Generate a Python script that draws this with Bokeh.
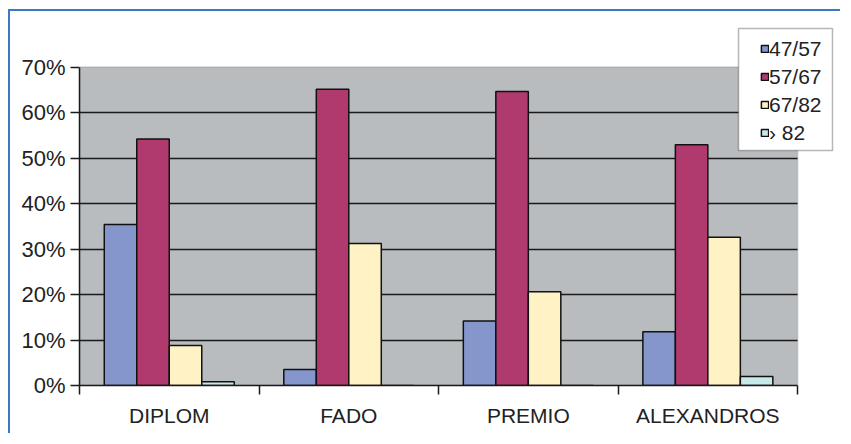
from bokeh.plotting import figure
from bokeh.models import (ColumnDataSource, Range1d, FixedTicker, PrintfTickFormatter,
                          Legend, LegendItem, BoxAnnotation)
from bokeh.embed import file_html
from bokeh.resources import INLINE

categories = ["DIPLOM", "FADO", "PREMIO", "ALEXANDROS"]
series_names = ["47/57", "57/67", "67/82", "› 82"]
s_47_57 = [35.4, 3.5, 14.2, 11.8]
s_57_67 = [54.2, 65.1, 64.6, 52.9]
s_67_82 = [8.8, 31.2, 20.6, 32.6]
s_gt_82 = [0.8, 0.0, 0.0, 2.0]
y_ticks = [0, 10, 20, 30, 40, 50, 60, 70]
y_max = 70

colors = ["#8496cb", "#b03a6e", "#fff3c6", "#c8e9ea"]
series = [s_47_57, s_57_67, s_67_82, s_gt_82]

FONT = "Liberation Sans"
TXT = "#222222"
n = len(categories)

# layout (pixels)
BL, BT, BB = 69, 10, 50
W, H = 832, 424
X0, X1 = -0.5, n - 0.25
Y0, Y1 = 0, 80
px_x = (W - BL) / (X1 - X0)
px_y = (H - BT - BB) / (Y1 - Y0)

p = figure(width=W, height=H, output_backend="svg", toolbar_location=None,
           x_range=Range1d(X0, X1), y_range=Range1d(Y0, Y1),
           min_border_left=BL, min_border_right=0, min_border_top=BT, min_border_bottom=BB)
p.styles = {"margin-left": "8px", "margin-top": "9px",
            "border-top": "2px solid #3b78c6", "border-left": "2px solid #3b78c6"}

p.background_fill_color = "white"
p.border_fill_color = "white"
p.outline_line_color = None

# plot-area background (grey panel)
panel = BoxAnnotation(left=-0.5, right=n - 0.5, bottom=0, top=y_max,
                      fill_color="#b8bcbf", fill_alpha=1,
                      line_color="#8f9294", line_width=2, level="image")
p.add_layout(panel)

p.xgrid.grid_line_color = None
p.ygrid.ticker = FixedTicker(ticks=[t for t in y_ticks if 0 < t < y_max])
p.ygrid.grid_line_color = "#1a1a1a"
p.ygrid.grid_line_width = 1.5
if hasattr(p.ygrid, "cross_bounds"):
    p.ygrid.cross_bounds = (-0.5, n - 0.5)

# y axis
ya = p.yaxis[0]
ya.ticker = FixedTicker(ticks=y_ticks)
ya.bounds = (0, y_max)
ya.formatter = PrintfTickFormatter(format="%d%%")
ya.axis_line_color = "#1a1a1a"
ya.axis_line_width = 1.5
ya.major_tick_line_color = "#1a1a1a"
ya.major_tick_line_width = 1.5
ya.major_tick_in = 0
ya.major_tick_out = 9
ya.minor_tick_line_color = None
ya.major_label_standoff = 5
ya.major_label_text_font = FONT
ya.major_label_text_font_size = "22px"
ya.major_label_text_color = TXT

# x axis
xa = p.xaxis[0]
xa.ticker = FixedTicker(ticks=list(range(n)), minor_ticks=[i - 0.5 for i in range(n + 1)])
xa.bounds = (-0.5, n - 0.5)
xa.major_label_overrides = {i: c for i, c in enumerate(categories)}
xa.axis_line_color = "#1a1a1a"
xa.axis_line_width = 1.5
xa.major_tick_line_color = None
xa.major_tick_in = 0
xa.major_tick_out = 0
xa.minor_tick_line_color = "#1a1a1a"
xa.minor_tick_line_width = 1.5
xa.minor_tick_in = 0
xa.minor_tick_out = 9
xa.major_label_standoff = 9
xa.major_label_text_font = FONT
xa.major_label_text_font_size = "21px"
xa.major_label_text_color = TXT

bar_w = 0.181
items = []
for k, (name, vals, col) in enumerate(zip(series_names, series, colors)):
    off = (k - 1.5) * bar_w
    src = ColumnDataSource(dict(x=[i + off for i in range(n)], top=vals))
    r = p.vbar(x="x", top="top", bottom=0, width=bar_w, source=src,
               fill_color=col, line_color="#111111", line_width=1.5)
    items.append(LegendItem(label=name, renderers=[r]))

# legend frame (white box with black border), placed in frame pixels
lg_left, lg_right, lg_top, lg_bottom = 659, 753, 357, 235   # px from frame bottom-left
legend_box = BoxAnnotation(left=X0 + lg_left / px_x, right=X0 + lg_right / px_x,
                           bottom=Y0 + lg_bottom / px_y, top=Y0 + lg_top / px_y,
                           fill_color="white", fill_alpha=1,
                           line_color="#111111", line_width=1.5)
p.add_layout(legend_box)

legend = Legend(items=items, location=(681, 240))
legend.label_text_font = FONT
legend.label_text_font_size = "21px"
legend.label_text_color = TXT
legend.glyph_width = 9
legend.glyph_height = 9
legend.label_standoff = 0
legend.label_height = 25
legend.spacing = 3
legend.padding = 0
legend.margin = 0
legend.border_line_color = None
legend.background_fill_alpha = 0
p.add_layout(legend, "center")

open("out.html", "w").write(file_html(p, INLINE))
